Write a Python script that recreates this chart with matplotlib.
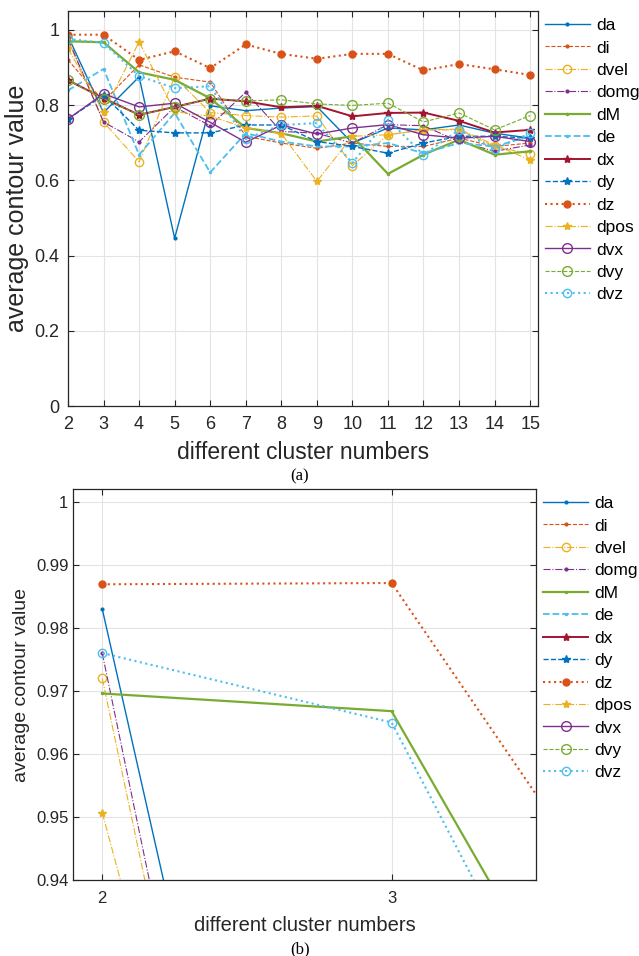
import matplotlib.pyplot as plt
import numpy as np

plt.rcParams['font.family'] = ['Liberation Sans', 'DejaVu Sans']

clusters = [2, 3, 4, 5, 6, 7, 8, 9, 10, 11, 12, 13, 14, 15]

da   = [0.983, 0.780, 0.875, 0.446, 0.798, 0.785, 0.792, 0.796, 0.699, 0.739, 0.734, 0.747, 0.725, 0.712]
di   = [0.920, 0.810, 0.907, 0.874, 0.861, 0.717, 0.699, 0.685, 0.699, 0.690, 0.690, 0.712, 0.690, 0.699]
dvel = [0.972, 0.755, 0.649, 0.874, 0.780, 0.772, 0.768, 0.771, 0.639, 0.721, 0.734, 0.734, 0.690, 0.670]
domg = [0.976, 0.755, 0.702, 0.795, 0.745, 0.834, 0.730, 0.725, 0.699, 0.748, 0.745, 0.703, 0.677, 0.694]
dM   = [0.9696, 0.9668, 0.887, 0.867, 0.818, 0.739, 0.725, 0.703, 0.717, 0.617, 0.668, 0.708, 0.668, 0.677]
de   = [0.839, 0.896, 0.668, 0.779, 0.621, 0.725, 0.703, 0.690, 0.690, 0.699, 0.672, 0.699, 0.690, 0.717]
dx   = [0.866, 0.818, 0.774, 0.795, 0.817, 0.810, 0.794, 0.798, 0.770, 0.779, 0.780, 0.758, 0.727, 0.734]
dy   = [0.763, 0.826, 0.733, 0.726, 0.726, 0.747, 0.747, 0.703, 0.690, 0.672, 0.699, 0.717, 0.717, 0.712]
dz   = [0.9869, 0.9871, 0.920, 0.943, 0.898, 0.961, 0.936, 0.923, 0.936, 0.936, 0.892, 0.909, 0.895, 0.880]
dpos = [0.9507, 0.781, 0.968, 0.783, 0.770, 0.740, 0.724, 0.597, 0.717, 0.721, 0.734, 0.736, 0.694, 0.654]
dvx  = [0.763, 0.830, 0.795, 0.805, 0.754, 0.701, 0.747, 0.723, 0.739, 0.748, 0.721, 0.712, 0.717, 0.703]
dvy  = [0.866, 0.817, 0.774, 0.795, 0.817, 0.811, 0.814, 0.803, 0.799, 0.805, 0.755, 0.779, 0.734, 0.772]
dvz  = [0.976, 0.965, 0.877, 0.845, 0.850, 0.710, 0.747, 0.752, 0.646, 0.761, 0.668, 0.734, 0.683, 0.725]

BLUE, ORANGE, YELLOW, PURPLE = '#0072BD', '#D95319', '#EDB120', '#7E2F8E'
GREEN, CYAN, RED = '#77AC30', '#4DBEEE', '#A2142F'

# name, values, color, linestyle, marker, markersize, filled, linewidth
series = [
    ('da',   da,   BLUE,   '-',  '.', 4, True,  1.0),
    ('di',   di,   ORANGE, '--', '.', 4, True,  0.8),
    ('dvel', dvel, YELLOW, '-.', 'o', 6, False, 0.8),
    ('domg', domg, PURPLE, '-.', '.', 4, True,  0.8),
    ('dM',   dM,   GREEN,  '-',  '.', 3, True,  1.6),
    ('de',   de,   CYAN,   '--', '.', 3, True,  1.3),
    ('dx',   dx,   RED,    '-',  '*', 6, True,  1.4),
    ('dy',   dy,   BLUE,   '--', '*', 6, True,  1.0),
    ('dz',   dz,   ORANGE, ':',  'o', 5, True,  1.5),
    ('dpos', dpos, YELLOW, '-.', '*', 6, True,  0.8),
    ('dvx',  dvx,  PURPLE, '-',  'o', 7, False, 1.0),
    ('dvy',  dvy,  GREEN,  '--', 'o', 7, False, 0.8),
    ('dvz',  dvz,  CYAN,   ':',  'o', 6, False, 1.5),
]

AX_COLOR = '#262626'


def draw(ax, tick_size, xpad, ypad, xlab_size, ylab_size, xlab_pad):
    for name, vals, c, ls, mk, ms, filled, lw in series:
        ax.plot(clusters, vals, color=c, linestyle=ls, marker=mk, markersize=ms,
                markerfacecolor=c if filled else 'none', markeredgecolor=c,
                markeredgewidth=1.0, linewidth=lw, label=name)
    ax.grid(True, color='#e3e3e3', linewidth=0.8)
    ax.set_axisbelow(True)
    ax.tick_params(direction='in', top=True, right=True, length=4,
                   labelsize=tick_size, colors=AX_COLOR, width=0.8)
    ax.tick_params(axis='x', pad=xpad)
    ax.tick_params(axis='y', pad=ypad)
    for s in ax.spines.values():
        s.set_color(AX_COLOR)
        s.set_linewidth(0.9)
    ax.set_xlabel('different cluster numbers', fontsize=xlab_size, color=AX_COLOR,
                  labelpad=xlab_pad)
    ax.set_ylabel('average contour value', fontsize=ylab_size, color=AX_COLOR,
                  labelpad=4)
    ax.legend(loc='upper left', bbox_to_anchor=(1.0, 1.0), frameon=False,
              fontsize=12.5, handlelength=2.6, handletextpad=0.35,
              labelspacing=0.42, borderaxespad=0.0, borderpad=0.4)


fig = plt.figure(figsize=(6.39, 9.56), dpi=100)

ax1 = fig.add_axes([0.1064, 0.5753, 0.7355, 0.4132])
draw(ax1, 13, 7, 6, 16.5, 18, 6)
ax1.set_xlim(2, 15.22)
ax1.set_ylim(0, 1.05)
ax1.set_xticks(clusters)
ax1.set_yticks([0, 0.2, 0.4, 0.6, 0.8, 1.0])
ax1.set_yticklabels(['0', '0.2', '0.4', '0.6', '0.8', '1'])

ax2 = fig.add_axes([0.1147, 0.0792, 0.7246, 0.4093])
draw(ax2, 12, 8, 3.5, 14.5, 14, 7)
ax2.set_xlim(1.9, 3.5)
ax2.set_ylim(0.94, 1.002)
ax2.set_xticks([2, 3])
ax2.set_yticks([0.94, 0.95, 0.96, 0.97, 0.98, 0.99, 1.0])
ax2.set_yticklabels(['0.94', '0.95', '0.96', '0.97', '0.98', '0.99', '1'])

fig.text(0.4695, 1 - 476 / 956, '(a)', family='Liberation Serif', fontsize=12,
         ha='center', va='center')
fig.text(0.4695, 1 - 949 / 956, '(b)', family='Liberation Serif', fontsize=12,
         ha='center', va='center')

fig.savefig('out.png', dpi=100)
